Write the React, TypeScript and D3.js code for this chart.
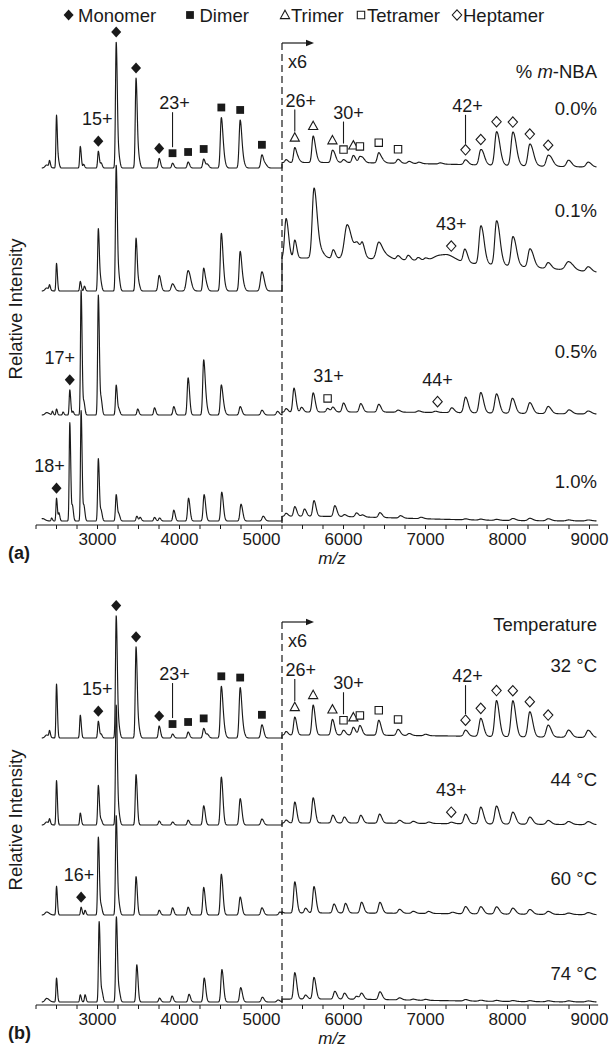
import React from "react";
import * as d3 from "d3";

type Peak = [number, number, number?];
type Hump = [number, number, number];

const CUT = 5250;
const MZ_START = 2320;
const MZ_END = 9085;
const STEP = 2.5;
const K = 0.0027;
const TAIL = 1.6;

const tickValues = d3.range(2250, 9001, 250);
const tickLabels = [3000, 4000, 5000, 6000, 7000, 8000, 9000];

// ---------- panel (a): % m-NBA ----------
const nbaLabels = ["0.0%", "0.1%", "0.5%", "1.0%"];

const nba00Left: Peak[] = [[2380,2.5,3],[2415,5],[2500,44],[2525,5],[2790,18],[2830,3],[3010,14],[3045,4],[3228,105],[3262,8],[3470,75],[3505,7],[3752,8],[3915,4],[4105,5],[4295,7.5],[4340,3],[4510,42],[4545,5],[4740,40],[4780,4],[5005,11],[5050,2.5]];
const nba00Right: Peak[] = [[5300,2.5],[5406,12.5],[5450,2.5],[5630,22],[5670,3],[5865,10],[5900,2.5],[6000,2.5],[6120,6],[6200,5],[6240,2.5],[6430,8.5],[6480,1.7],[6665,3.3],[6800,1.7],[6920,1.2],[7180,1],[7488,4],[7674,12.5],[7715,2.5],[7866,27.5],[7910,4],[8065,27.5],[8110,4],[8272,18],[8320,3],[8496,9],[8545,2.5],[8744,5.4],[8984,4]];
const nba00Hump: Hump[] = [[5700, 4.6, 1800]];

const nba01Left: Peak[] = [[2380,2.5,3],[2415,4],[2500,23],[2790,8],[2840,4],[3010,52],[3040,7],[3228,105],[3262,10],[3470,44],[3505,5],[3752,13,1.3],[3915,6,1.5],[4105,17,1.8],[4295,19],[4330,4],[4510,48],[4545,5],[4740,33],[4780,4],[5005,16,1.3]];
const nba01Right: Peak[] = [[5300,33,1.3],[5406,15],[5640,57,1.4],[5700,8,2],[5875,7],[6045,28,2],[6170,12,2],[6232,7.5],[6430,14,1.6],[6520,3,2],[6665,3.3],[6789,4],[6911,2.5],[7000,2],[7174,5,4],[7290,2.5,3],[7480,11],[7674,31],[7715,5],[7866,36],[7910,6],[8065,24],[8110,4],[8272,15],[8320,3],[8496,5],[8744,7,1.5],[8984,4]];
const nba01Hump: Hump[] = [[5600, 27.5, 3300]];

const nba05Left: Peak[] = [[2380,2,3],[2450,3],[2500,5],[2580,2.5],[2662,21],[2700,3],[2800,104],[2835,10],[3010,100],[3045,12],[3228,25],[3262,4],[3490,5],[3695,6],[3930,7],[4105,31],[4295,46],[4330,5],[4510,25],[4545,3],[4740,7],[5005,4],[5195,3]];
const nba05Right: Peak[] = [[5300,3],[5396,20],[5488,4],[5630,16],[5806,3],[5870,4],[6000,7.5],[6210,7],[6430,6.5],[6665,1.7],[6915,1.2],[7120,1],[7320,4],[7488,13],[7674,17],[7866,16],[8060,12.5],[8272,9],[8496,6],[8750,3.3],[8984,2.5]];
const nba05Hump: Hump[] = [[6000, 2.5, 2000]];

const nba10Left: Peak[] = [[2330,2,3],[2440,2.5],[2500,19],[2530,6.5],[2662,82],[2695,12],[2800,92],[2835,12],[3010,52],[3045,8],[3228,22],[3262,5],[3479,4],[3520,3],[3695,3],[3756,2.5],[3930,9],[4110,19],[4300,22],[4515,24],[4750,14],[5020,4]];
const nba10Right: Peak[] = [[5300,2.5],[5406,8],[5524,6],[5640,13],[5894,9],[6012,1.7],[6159,3.3],[6232,1.7],[6444,4],[6695,2],[6946,1.2],[7488,0.8],[7674,0.8],[7866,0.8],[8065,1.7],[8272,2],[8496,1.7],[8744,0.8],[8984,0.8]];
const nba10Hump: Hump[] = [[5500, 4, 1200]];

// ---------- panel (b): temperature ----------
const tempLabels = ["32 °C", "44 °C", "60 °C", "74 °C"];

const t32Left: Peak[] = [[2380,2.5,3],[2415,5],[2500,45],[2790,19],[3010,14],[3045,3],[3228,102],[3262,8],[3470,76],[3505,7],[3752,10],[3915,3.3],[4105,5],[4295,8],[4340,3],[4510,43],[4545,5],[4740,42],[4780,4],[5005,11]];
const t32Right: Peak[] = [[5300,3],[5406,15],[5630,25],[5865,13],[6000,4],[6120,6.5],[6200,8],[6430,12.5],[6665,5],[6800,1.7],[7000,1.2],[7488,5],[7674,15],[7866,30],[8065,30],[8272,21],[8496,10],[8744,6],[8984,6]];
const t32Hump: Hump[] = [[5700, 2.5, 1800]];

const t44Left: Peak[] = [[2380,2.5,3],[2415,4],[2500,37],[2790,10],[3010,33],[3045,4],[3228,100],[3262,8],[3470,42],[3752,3.3],[3915,2.5],[4105,4],[4295,16],[4510,40],[4740,22],[5005,5]];
const t44Right: Peak[] = [[5300,2.5],[5406,17.5],[5630,21],[5870,6.5],[6010,5],[6210,6.5],[6440,7.5],[6683,2.5],[6850,1.7],[7040,1.2],[7314,1.2],[7488,8],[7674,14],[7866,15],[8065,10],[8272,6],[8496,3.3],[8744,2.5],[8984,2.5]];
const t44Hump: Hump[] = [[5700, 1.7, 1800]];

const t60Left: Peak[] = [[2380,2.5,3],[2500,24],[2800,6.5],[2848,4],[3010,65],[3045,7],[3228,83],[3262,8],[3470,32],[3752,4],[3915,6],[4105,6.5],[4295,23],[4510,34],[4740,15],[5005,6],[5224,2.5]];
const t60Right: Peak[] = [[5406,26],[5537,4],[5640,22],[5884,7.5],[6024,8],[6220,9],[6444,9],[6683,3.3],[6850,1.7],[7037,1.7],[7329,1.2],[7488,6],[7674,6],[7866,6],[8065,5],[8272,4],[8496,2.5],[8744,1.2],[8984,1.7]];
const t60Hump: Hump[] = [[5700, 1.7, 1800]];

const t74Left: Peak[] = [[2380,3,3],[2500,20],[2790,6],[2848,6],[3020,67],[3055,8],[3230,71],[3265,8],[3479,31],[3756,3.3],[3909,5],[4116,6.5],[4301,20],[4517,27],[4746,12],[5010,4],[5201,1.7]];
const t74Right: Peak[] = [[5406,22],[5537,3.3],[5640,18],[5894,6.5],[6012,5],[6159,2.5],[6220,5],[6444,6.5],[6683,1.7],[6850,0.8],[7000,0.8],[7488,1.2],[7674,0.8],[7866,0.8],[8065,0.8],[8272,0.8],[8496,0.8],[8744,0.8],[8984,0.8]];
const t74Hump: Hump[] = [[5600, 2.5, 1300]];

// ---------- species markers (m/z) ----------
const monomerTop = [3010, 3228, 3470, 3752];
const dimerTop = [3915, 4105, 4295, 4510, 4740, 5005];
const trimerTop = [5406, 5630, 5865, 6120];
const tetramerTop = [6000, 6200, 6430, 6665];
const heptamerTop = [7488, 7674, 7866, 8065, 8272, 8496];

type Kind = "monomer" | "dimer" | "trimer" | "tetramer" | "heptamer";
type Charge = { mz: number; text: string; leader: number; dx: number };

const topCharges: Charge[] = [
  { mz: 3010, text: "15+", leader: 0, dx: -1 },
  { mz: 3915, text: "23+", leader: 35, dx: 2 },
  { mz: 5406, text: "26+", leader: 22, dx: 6 },
  { mz: 6000, text: "30+", leader: 22, dx: 5 },
  { mz: 7488, text: "42+", leader: 29, dx: 2 },
];

const legendItems: { kind: Kind; text: string }[] = [
  { kind: "monomer", text: "Monomer" },
  { kind: "dimer", text: "Dimer" },
  { kind: "trimer", text: "Trimer" },
  { kind: "tetramer", text: "Tetramer" },
  { kind: "heptamer", text: "Heptamer" },
];

// ---------- layout ----------
const FONT = "'Liberation Sans', Arial, Helvetica, sans-serif";
const INK = "#1a1a1a";

const SHAPES: Record<Kind, { d: string; fill: string; stroke: string }> = {
  monomer: { d: "M0,-5.6L5,0L0,5.6L-5,0Z", fill: INK, stroke: "none" },
  dimer: { d: "M-3.9,-3.9H3.9V3.9H-3.9Z", fill: INK, stroke: "none" },
  trimer: { d: "M0,-4.8L4.6,3.6H-4.6Z", fill: "#fff", stroke: INK },
  tetramer: { d: "M-3.7,-3.7H3.7V3.7H-3.7Z", fill: "#fff", stroke: INK },
  heptamer: { d: "M0,-5.2L4.7,0L0,5.2L-4.7,0Z", fill: "#fff", stroke: INK },
};

type Trace = {
  left: Peak[];
  right: Peak[];
  hump: Hump[];
  label: string;
  marks: Partial<Record<Kind, number[]>>;
  charges: Charge[];
};

const topMarks = {
  monomer: monomerTop,
  dimer: dimerTop,
  trimer: trimerTop,
  tetramer: tetramerTop,
  heptamer: heptamerTop,
};

const panelA: Trace[] = [
  { left: nba00Left, right: nba00Right, hump: nba00Hump, label: nbaLabels[0], marks: topMarks, charges: topCharges },
  { left: nba01Left, right: nba01Right, hump: nba01Hump, label: nbaLabels[1], marks: { heptamer: [7314] }, charges: [{ mz: 7314, text: "43+", leader: 0, dx: 0 }] },
  { left: nba05Left, right: nba05Right, hump: nba05Hump, label: nbaLabels[2], marks: { monomer: [2662], tetramer: [5806], heptamer: [7147] }, charges: [{ mz: 2662, text: "17+", leader: 0, dx: -10 }, { mz: 5806, text: "31+", leader: 0, dx: 1 }, { mz: 7147, text: "44+", leader: 0, dx: 0 }] },
  { left: nba10Left, right: nba10Right, hump: nba10Hump, label: nbaLabels[3], marks: { monomer: [2500] }, charges: [{ mz: 2500, text: "18+", leader: 0, dx: -7 }] },
];

const panelB: Trace[] = [
  { left: t32Left, right: t32Right, hump: t32Hump, label: tempLabels[0], marks: topMarks, charges: topCharges },
  { left: t44Left, right: t44Right, hump: t44Hump, label: tempLabels[1], marks: { heptamer: [7314] }, charges: [{ mz: 7314, text: "43+", leader: 0, dx: 0 }] },
  { left: t60Left, right: t60Right, hump: t60Hump, label: tempLabels[2], marks: { monomer: [2800] }, charges: [{ mz: 2800, text: "16+", leader: 0, dx: -2 }] },
  { left: t74Left, right: t74Right, hump: t74Hump, label: tempLabels[3], marks: {}, charges: [] },
];

const x = d3.scaleLinear().domain([3000, 9000]).range([97.5, 589.5]);
const y = d3.scaleLinear().domain([0, 100]).range([0, 120]);

function peakSum(peaks: Peak[], mz: number) {
  let v = 0;
  for (const p of peaks) {
    const c = p[0], h = p[1], w = p[2] ?? 1;
    const s = K * c * w * (mz < c ? 1 : TAIL);
    const d = (mz - c) / s;
    if (d > -7 && d < 7) v += h * Math.exp(-0.5 * d * d);
  }
  return v;
}
function humpSum(humps: Hump[], mz: number) {
  let v = 0;
  for (const [c, h, s] of humps) {
    const d = (mz - c) / s;
    v += h * Math.exp(-0.5 * d * d);
  }
  return v;
}
function value(tr: Trace, mz: number) {
  let v = peakSum(tr.left, mz);
  if (mz >= CUT) v += peakSum(tr.right, mz) + humpSum(tr.hump, mz);
  return v;
}
function samples(tr: Trace): [number, number][] {
  const pts: [number, number][] = [];
  for (let mz = MZ_START; mz < CUT; mz += STEP) pts.push([mz, value(tr, mz)]);
  pts.push([CUT, peakSum(tr.left, CUT)]);
  for (let mz = CUT; mz <= MZ_END; mz += STEP) pts.push([mz, value(tr, mz)]);
  return pts;
}

const GAP = 10;

function Marker({ kind, cx, cy }: { kind: Kind; cx: number; cy: number }) {
  const s = SHAPES[kind];
  return <path d={s.d} transform={`translate(${cx},${cy})`} fill={s.fill} stroke={s.stroke} strokeWidth={1.1} />;
}

function TraceView({ tr, base }: { tr: Trace; base: number }) {
  const line = d3
    .line<[number, number]>()
    .x((d) => x(d[0]))
    .y((d) => base - y(d[1]));
  const markY = (mz: number) => base - y(value(tr, mz)) - GAP;
  return (
    <g>
      <path d={line(samples(tr)) || ""} fill="none" stroke={INK} strokeWidth={1.15} strokeLinejoin="round" />
      {(Object.keys(tr.marks) as Kind[]).map((k) =>
        (tr.marks[k] || []).map((mz) => <Marker key={k + mz} kind={k} cx={x(mz)} cy={markY(mz)} />)
      )}
      {tr.charges.map((c) => {
        const my = markY(c.mz);
        if (c.leader > 0) {
          const bottom = my - 6;
          const top = bottom - c.leader;
          return (
            <g key={c.text}>
              <line x1={x(c.mz)} x2={x(c.mz)} y1={top} y2={bottom} stroke={INK} strokeWidth={1.1} />
              <text x={x(c.mz) + c.dx} y={top - 3} textAnchor="middle" fontSize={18} fontFamily={FONT} fill={INK}>
                {c.text}
              </text>
            </g>
          );
        }
        return (
          <text key={c.text} x={x(c.mz) + c.dx} y={my - 16} textAnchor="middle" fontSize={18} fontFamily={FONT} fill={INK}>
            {c.text}
          </text>
        );
      })}
    </g>
  );
}

function Panel({
  traces, bases, labelYs, axisY, dashTop, tag, header, headerY, ylabelY,
}: {
  traces: Trace[]; bases: number[]; labelYs: number[]; axisY: number; dashTop: number;
  tag: string; header: React.ReactNode; headerY: number; ylabelY: number;
}) {
  const xc = x(CUT);
  return (
    <g>
      {traces.map((tr, i) => (
        <TraceView key={i} tr={tr} base={bases[i]} />
      ))}
      {traces.map((tr, i) => (
        <text key={"l" + i} x={597} y={labelYs[i]} textAnchor="end" fontSize={18.5} fontFamily={FONT} fill={INK}>
          {tr.label}
        </text>
      ))}
      <text x={597} y={headerY} textAnchor="end" fontSize={18.5} fontFamily={FONT} fill={INK}>
        {header}
      </text>
      {/* cut line */}
      <line x1={xc} x2={xc} y1={dashTop} y2={axisY} stroke={INK} strokeWidth={1.2} strokeDasharray="7,4" />
      <line x1={xc} x2={xc + 27} y1={dashTop} y2={dashTop} stroke={INK} strokeWidth={1.2} />
      <path d={`M${xc + 32},${dashTop}L${xc + 24},${dashTop - 3.2}L${xc + 24},${dashTop + 3.2}Z`} fill={INK} />
      <text x={xc + 6} y={dashTop + 25} fontSize={18} fontFamily={FONT} fill={INK}>
        x6
      </text>
      {/* axis */}
      <line x1={x(2250)} x2={x(9105)} y1={axisY} y2={axisY} stroke={INK} strokeWidth={1.2} />
      {tickValues.map((t) => (
        <line key={t} x1={x(t)} x2={x(t)} y1={axisY} y2={axisY + 4} stroke={INK} strokeWidth={1} />
      ))}
      {tickLabels.map((t) => (
        <text key={t} x={x(t)} y={axisY + 20} textAnchor="middle" fontSize={17} fontFamily={FONT} fill={INK}>
          {t}
        </text>
      ))}
      <text x={332} y={axisY + 39} textAnchor="middle" fontSize={17} fontFamily={FONT} fontStyle="italic" fill={INK}>
        m/z
      </text>
      <text x={8} y={axisY + 34} fontSize={18} fontFamily={FONT} fontWeight="bold" fill={INK}>
        {tag}
      </text>
      <text
        transform={`translate(15.5,${ylabelY}) rotate(-90)`}
        textAnchor="middle"
        dominantBaseline="central"
        fontSize={18.5}
        fontFamily={FONT}
        fill={INK}
      >
        Relative Intensity
      </text>
    </g>
  );
}

export default function App() {
  const legendX = [68.6, 190, 285, 361, 457];
  return (
    <svg
      width={612}
      height={1050}
      viewBox="0 0 612 1050"
      style={{ position: "absolute", left: 0, top: 0, background: "#fff" }}
    >
      <rect width={612} height={1050} fill="#fff" />
      {legendItems.map((it, i) => (
        <g key={it.kind}>
          <Marker kind={it.kind} cx={legendX[i]} cy={15} />
          <text x={legendX[i] + (i < 2 ? 9.5 : 6)} y={21.5} fontSize={18.5} fontFamily={FONT} fill={INK}>
            {it.text}
          </text>
        </g>
      ))}
      <Panel
        traces={panelA}
        bases={[168, 291, 415, 521]}
        labelYs={[115, 217, 358, 488]}
        axisY={525}
        dashTop={43}
        tag="(a)"
        header={
          <>
            {"% "}
            <tspan fontStyle="italic">m</tspan>
            {"-NBA"}
          </>
        }
        headerY={78}
        ylabelY={309}
      />
      <Panel
        traces={panelB}
        bases={[738, 825, 915, 1002]}
        labelYs={[672, 786, 885, 980]}
        axisY={1005}
        dashTop={622}
        tag="(b)"
        header="Temperature"
        headerY={631}
        ylabelY={820}
      />
    </svg>
  );
}
